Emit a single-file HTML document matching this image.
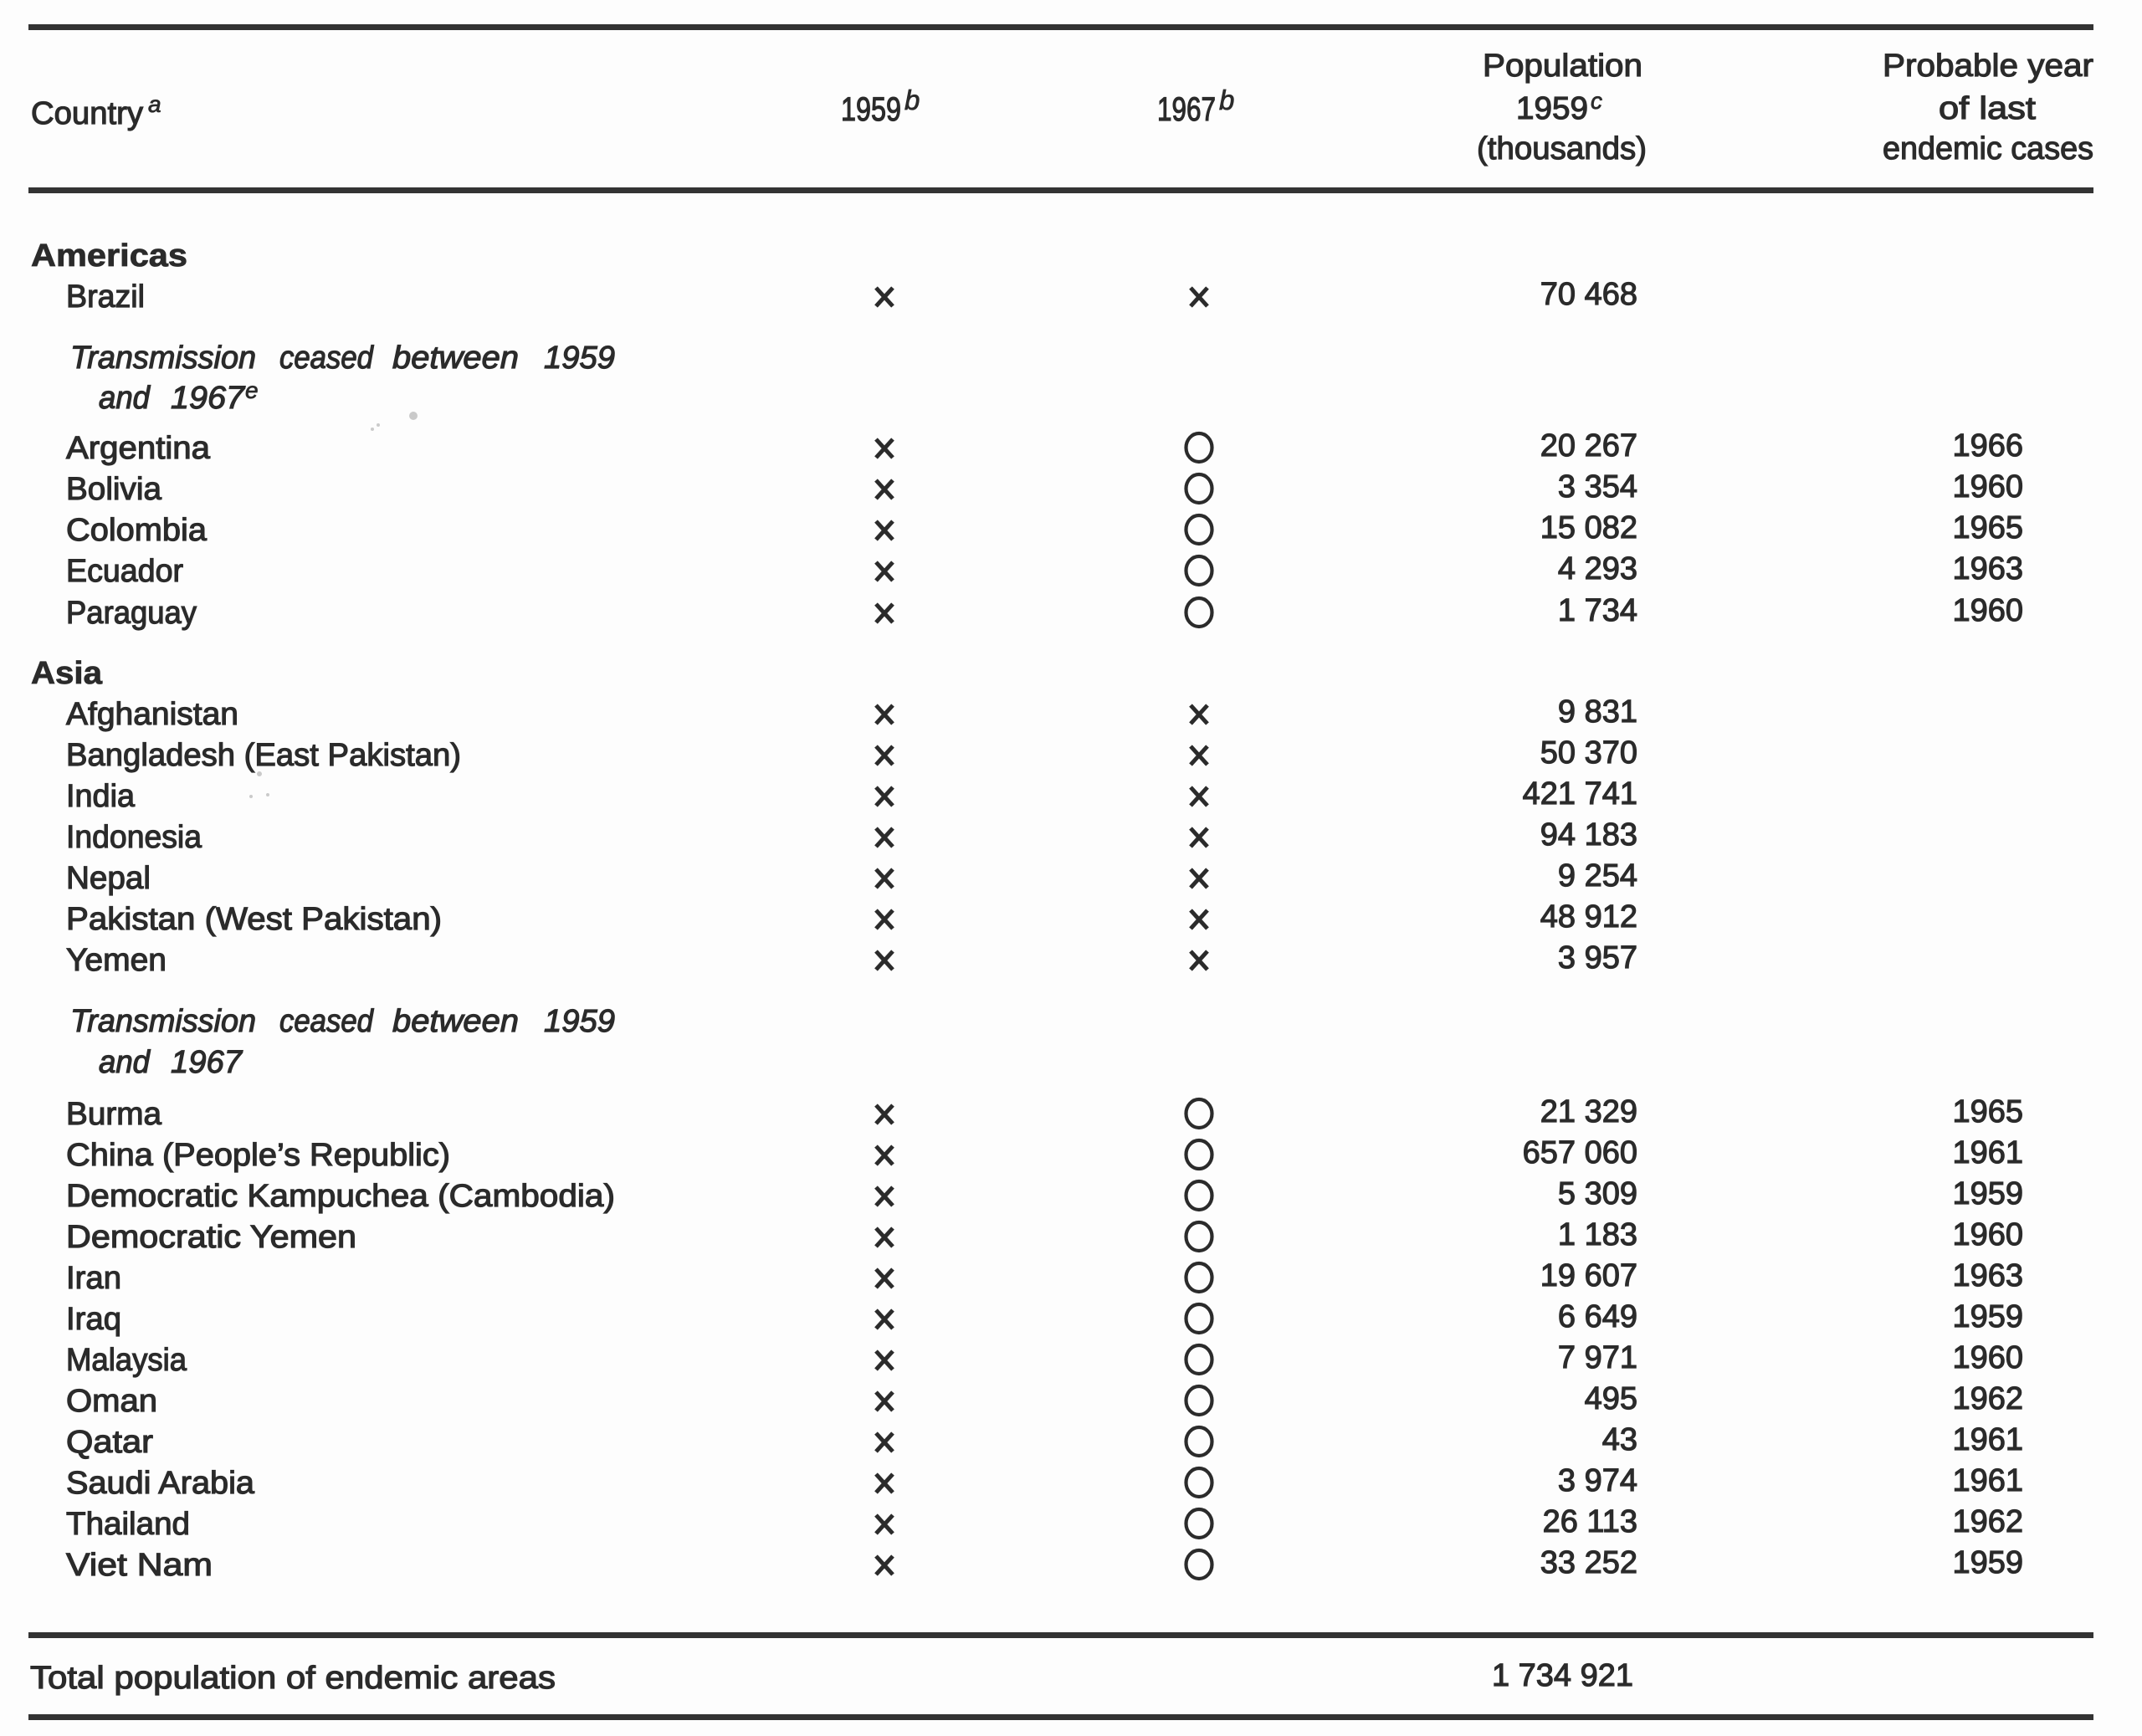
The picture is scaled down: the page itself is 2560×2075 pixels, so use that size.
<!DOCTYPE html>
<html>
<head>
<meta charset="utf-8">
<style>
html,body{margin:0;padding:0;background:#fdfdfd;}
svg{display:block;}
text{font-family:"Liberation Sans",sans-serif;fill:#2b2b2b;stroke:#2b2b2b;stroke-width:1.2;}
.it{font-style:italic;}
.b{font-weight:bold;stroke-width:0.8;}
.sup{stroke-width:0.8;}
</style>
</head>
<body>
<svg width="2560" height="2075" viewBox="0 0 2560 2075" xmlns="http://www.w3.org/2000/svg">
<rect x="0" y="0" width="2560" height="2075" fill="#fdfdfd"/>
<!-- rules -->
<rect x="34" y="29" width="2468" height="7" fill="#333"/>
<rect x="34" y="224" width="2468" height="7" fill="#333"/>
<rect x="34" y="1951" width="2468" height="7" fill="#333"/>
<rect x="34" y="2049" width="2468" height="7" fill="#333"/>

<g font-size="38">
<!-- header -->
<text x="37" y="148" textLength="134" lengthAdjust="spacingAndGlyphs">Country</text>
<text class="it sup" x="177" y="134" font-size="28">a</text>
<text x="1005" y="144" font-size="40" textLength="72" lengthAdjust="spacingAndGlyphs">1959</text>
<text class="it sup" x="1081" y="131" font-size="33">b</text>
<text x="1383" y="144" font-size="40" textLength="70" lengthAdjust="spacingAndGlyphs">1967</text>
<text class="it sup" x="1457" y="131" font-size="33">b</text>
<text x="1772" y="91" textLength="191" lengthAdjust="spacingAndGlyphs">Population</text>
<text x="1812" y="142" textLength="86" lengthAdjust="spacingAndGlyphs">1959</text>
<text class="it sup" x="1901" y="130" font-size="28">c</text>
<text x="1765" y="190" textLength="203" lengthAdjust="spacingAndGlyphs">(thousands)</text>
<text x="2250" y="91" textLength="252" lengthAdjust="spacingAndGlyphs">Probable year</text>
<text x="2317" y="142" textLength="116" lengthAdjust="spacingAndGlyphs">of last</text>
<text x="2250" y="190" textLength="252" lengthAdjust="spacingAndGlyphs">endemic cases</text>

<!-- Americas -->
<text class="b" x="37" y="318" textLength="187" lengthAdjust="spacingAndGlyphs">Americas</text>
<text x="79" y="367" textLength="94" lengthAdjust="spacingAndGlyphs">Brazil</text>

<text class="it" x="84" y="440" textLength="222" lengthAdjust="spacingAndGlyphs">Transmission</text>
<text class="it" x="334" y="440" textLength="112" lengthAdjust="spacingAndGlyphs">ceased</text>
<text class="it" x="469" y="440" textLength="151" lengthAdjust="spacingAndGlyphs">between</text>
<text class="it" x="650" y="440" textLength="85" lengthAdjust="spacingAndGlyphs">1959</text>
<text class="it" x="118" y="488" textLength="61" lengthAdjust="spacingAndGlyphs">and</text>
<text class="it" x="204" y="488" textLength="88" lengthAdjust="spacingAndGlyphs">1967</text>
<text class="it sup" x="293" y="476" font-size="28">e</text>

<text x="79" y="548" textLength="172" lengthAdjust="spacingAndGlyphs">Argentina</text>
<text x="79" y="597" textLength="114" lengthAdjust="spacingAndGlyphs">Bolivia</text>
<text x="79" y="646" textLength="168" lengthAdjust="spacingAndGlyphs">Colombia</text>
<text x="79" y="695" textLength="140" lengthAdjust="spacingAndGlyphs">Ecuador</text>
<text x="79" y="745" textLength="156" lengthAdjust="spacingAndGlyphs">Paraguay</text>

<!-- Asia -->
<text class="b" x="37" y="817" textLength="85" lengthAdjust="spacingAndGlyphs">Asia</text>
<text x="79" y="866" textLength="206" lengthAdjust="spacingAndGlyphs">Afghanistan</text>
<text x="79" y="915" textLength="472" lengthAdjust="spacingAndGlyphs">Bangladesh (East Pakistan)</text>
<text x="79" y="964" textLength="82" lengthAdjust="spacingAndGlyphs">India</text>
<text x="79" y="1013" textLength="162" lengthAdjust="spacingAndGlyphs">Indonesia</text>
<text x="79" y="1062" textLength="101" lengthAdjust="spacingAndGlyphs">Nepal</text>
<text x="79" y="1111" textLength="449" lengthAdjust="spacingAndGlyphs">Pakistan (West Pakistan)</text>
<text x="79" y="1160" textLength="120" lengthAdjust="spacingAndGlyphs">Yemen</text>

<text class="it" x="84" y="1233" textLength="222" lengthAdjust="spacingAndGlyphs">Transmission</text>
<text class="it" x="334" y="1233" textLength="112" lengthAdjust="spacingAndGlyphs">ceased</text>
<text class="it" x="469" y="1233" textLength="151" lengthAdjust="spacingAndGlyphs">between</text>
<text class="it" x="650" y="1233" textLength="85" lengthAdjust="spacingAndGlyphs">1959</text>
<text class="it" x="118" y="1282" textLength="61" lengthAdjust="spacingAndGlyphs">and</text>
<text class="it" x="204" y="1282" textLength="85" lengthAdjust="spacingAndGlyphs">1967</text>

<text x="79" y="1344" textLength="114" lengthAdjust="spacingAndGlyphs">Burma</text>
<text x="79" y="1393" textLength="459" lengthAdjust="spacingAndGlyphs">China (People’s Republic)</text>
<text x="79" y="1442" textLength="656" lengthAdjust="spacingAndGlyphs">Democratic Kampuchea (Cambodia)</text>
<text x="79" y="1491" textLength="347" lengthAdjust="spacingAndGlyphs">Democratic Yemen</text>
<text x="79" y="1540" textLength="66" lengthAdjust="spacingAndGlyphs">Iran</text>
<text x="79" y="1589" textLength="66" lengthAdjust="spacingAndGlyphs">Iraq</text>
<text x="79" y="1638" textLength="144" lengthAdjust="spacingAndGlyphs">Malaysia</text>
<text x="79" y="1687" textLength="109" lengthAdjust="spacingAndGlyphs">Oman</text>
<text x="79" y="1736" textLength="104" lengthAdjust="spacingAndGlyphs">Qatar</text>
<text x="79" y="1785" textLength="225" lengthAdjust="spacingAndGlyphs">Saudi Arabia</text>
<text x="79" y="1834" textLength="148" lengthAdjust="spacingAndGlyphs">Thailand</text>
<text x="79" y="1883" textLength="175" lengthAdjust="spacingAndGlyphs">Viet Nam</text>

<text x="36" y="2018" textLength="628" lengthAdjust="spacingAndGlyphs">Total population of endemic areas</text>

<!-- population numbers -->
<g text-anchor="end">
<text x="1957" y="364">70 468</text>
<text x="1957" y="545">20 267</text>
<text x="1957" y="594">3 354</text>
<text x="1957" y="643">15 082</text>
<text x="1957" y="692">4 293</text>
<text x="1957" y="742">1 734</text>
<text x="1957" y="863">9 831</text>
<text x="1957" y="912">50 370</text>
<text x="1957" y="961">421 741</text>
<text x="1957" y="1010">94 183</text>
<text x="1957" y="1059">9 254</text>
<text x="1957" y="1108">48 912</text>
<text x="1957" y="1157">3 957</text>
<text x="1957" y="1341">21 329</text>
<text x="1957" y="1390">657 060</text>
<text x="1957" y="1439">5 309</text>
<text x="1957" y="1488">1 183</text>
<text x="1957" y="1537">19 607</text>
<text x="1957" y="1586">6 649</text>
<text x="1957" y="1635">7 971</text>
<text x="1957" y="1684">495</text>
<text x="1957" y="1733">43</text>
<text x="1957" y="1782">3 974</text>
<text x="1957" y="1831">26 113</text>
<text x="1957" y="1880">33 252</text>
<text x="1952" y="2015">1 734 921</text>

<!-- years -->
<text x="2418" y="545">1966</text>
<text x="2418" y="594">1960</text>
<text x="2418" y="643">1965</text>
<text x="2418" y="692">1963</text>
<text x="2418" y="742">1960</text>
<text x="2418" y="1341">1965</text>
<text x="2418" y="1390">1961</text>
<text x="2418" y="1439">1959</text>
<text x="2418" y="1488">1960</text>
<text x="2418" y="1537">1963</text>
<text x="2418" y="1586">1959</text>
<text x="2418" y="1635">1960</text>
<text x="2418" y="1684">1962</text>
<text x="2418" y="1733">1961</text>
<text x="2418" y="1782">1961</text>
<text x="2418" y="1831">1962</text>
<text x="2418" y="1880">1959</text>
</g>
</g>

<defs>
<path id="xm" d="M-10,-11 L10,11 M10,-11 L-10,11" stroke="#2b2b2b" stroke-width="5" fill="none" stroke-linecap="butt"/>
<ellipse id="om" cx="0" cy="0" rx="15.5" ry="17" stroke="#2b2b2b" stroke-width="4.2" fill="none"/>
</defs>

<!-- 1959 column x marks -->
<g>
<use href="#xm" x="1057" y="355"/>
<use href="#xm" x="1057" y="536"/>
<use href="#xm" x="1057" y="585"/>
<use href="#xm" x="1057" y="634"/>
<use href="#xm" x="1057" y="683"/>
<use href="#xm" x="1057" y="733"/>
<use href="#xm" x="1057" y="854"/>
<use href="#xm" x="1057" y="903"/>
<use href="#xm" x="1057" y="952"/>
<use href="#xm" x="1057" y="1001"/>
<use href="#xm" x="1057" y="1050"/>
<use href="#xm" x="1057" y="1099"/>
<use href="#xm" x="1057" y="1148"/>
<use href="#xm" x="1057" y="1332"/>
<use href="#xm" x="1057" y="1381"/>
<use href="#xm" x="1057" y="1430"/>
<use href="#xm" x="1057" y="1479"/>
<use href="#xm" x="1057" y="1528"/>
<use href="#xm" x="1057" y="1577"/>
<use href="#xm" x="1057" y="1626"/>
<use href="#xm" x="1057" y="1675"/>
<use href="#xm" x="1057" y="1724"/>
<use href="#xm" x="1057" y="1773"/>
<use href="#xm" x="1057" y="1822"/>
<use href="#xm" x="1057" y="1871"/>
</g>

<!-- 1967 column -->
<g>
<use href="#xm" x="1433" y="355"/>
<use href="#om" x="1433" y="535"/>
<use href="#om" x="1433" y="584"/>
<use href="#om" x="1433" y="633"/>
<use href="#om" x="1433" y="682"/>
<use href="#om" x="1433" y="732"/>
<use href="#xm" x="1433" y="854"/>
<use href="#xm" x="1433" y="903"/>
<use href="#xm" x="1433" y="952"/>
<use href="#xm" x="1433" y="1001"/>
<use href="#xm" x="1433" y="1050"/>
<use href="#xm" x="1433" y="1099"/>
<use href="#xm" x="1433" y="1148"/>
<use href="#om" x="1433" y="1331"/>
<use href="#om" x="1433" y="1380"/>
<use href="#om" x="1433" y="1429"/>
<use href="#om" x="1433" y="1478"/>
<use href="#om" x="1433" y="1527"/>
<use href="#om" x="1433" y="1576"/>
<use href="#om" x="1433" y="1625"/>
<use href="#om" x="1433" y="1674"/>
<use href="#om" x="1433" y="1723"/>
<use href="#om" x="1433" y="1772"/>
<use href="#om" x="1433" y="1821"/>
<use href="#om" x="1433" y="1870"/>
</g>

<!-- faint smudges -->
<g fill="#999" opacity="0.5">
<circle cx="494" cy="497" r="5"/>
<circle cx="452" cy="508" r="2"/>
<circle cx="445" cy="513" r="2"/>
<circle cx="310" cy="925" r="3"/>
<circle cx="300" cy="952" r="2"/>
<circle cx="320" cy="950" r="2"/>
</g>
</svg>
</body>
</html>
